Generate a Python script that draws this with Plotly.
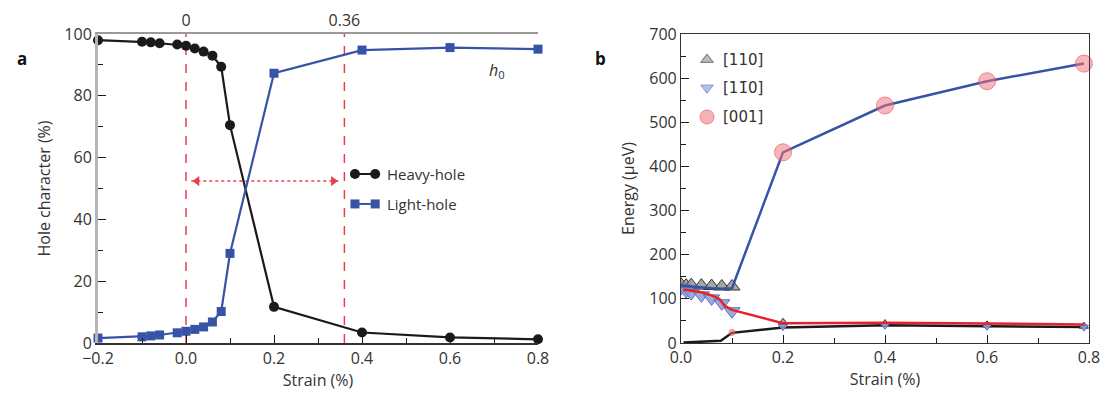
import plotly.graph_objects as go

# ---------------- Panel a data ----------------
strain_a = [-0.2, -0.1, -0.08, -0.06, -0.02, 0.0, 0.02, 0.04, 0.06, 0.08, 0.1, 0.2, 0.4, 0.6, 0.8]
heavy_hole = [98.0, 97.5, 97.3, 97.0, 96.6, 96.2, 95.3, 94.3, 93.0, 89.4, 70.5, 11.7, 3.4, 1.8, 1.2]
light_hole = [1.6, 2.0, 2.3, 2.6, 3.3, 3.8, 4.4, 5.2, 6.8, 10.2, 29.0, 87.3, 94.8, 95.6, 95.1]
a_xticks = [-0.2, 0.0, 0.2, 0.4, 0.6, 0.8]
a_yticks = [0, 20, 40, 60, 80, 100]
top_ticks = [0.0, 0.36]
top_labels = ["0", "0.36"]
arrow_x = [0.025, 0.335]
arrow_y = 52.4

# ---------------- Panel b data ----------------
blue_x = [0.0, 0.02, 0.04, 0.06, 0.08, 0.1, 0.2, 0.4, 0.6, 0.79]
blue_y = [130, 128, 125, 124, 123, 124, 432, 538, 593, 633]
red_x = [0.005, 0.02, 0.04, 0.06, 0.075, 0.085, 0.1, 0.2, 0.4, 0.6, 0.79]
red_y = [121, 119, 115, 108, 100, 85, 75, 45, 46, 44, 42]
black_x = [0.005, 0.078, 0.1, 0.2, 0.4, 0.6, 0.79]
black_y = [1, 5, 23, 35, 40, 38, 36]

up_x = [0.0, 0.01, 0.02, 0.04, 0.06, 0.08, 0.1]
up_y = [132, 130, 131, 130, 129, 128, 128]
up_x2 = [0.2, 0.4, 0.6, 0.79]
up_y2 = [47, 44, 41, 38]
down_x = [0.0, 0.01, 0.02, 0.04, 0.06, 0.08, 0.1]
down_y = [124, 118, 113, 108, 101, 90, 72]
down_x2 = [0.2, 0.4, 0.6, 0.79]
down_y2 = [37, 40, 38, 36]
circ_x = [0.1, 0.2, 0.4, 0.6, 0.79]
circ_y = [24, 432, 538, 593, 633]
circ_size = [6, 17, 17, 17, 17]
b_xticks = [0.0, 0.2, 0.4, 0.6, 0.8]
b_yticks = [0, 100, 200, 300, 400, 500, 600, 700]
b_legend_labels = ["[110]", "[11\u03040]", "[001]"]
b_legend_y = [642, 578, 512]

FONT = "Open Sans"
BLACK = "#1a1a1a"
BLUE = "#3653a5"
RED = "#e8404a"
TXT = "#333333"

fig = go.Figure()

# dashed vertical guide lines (panel a)
for xv in top_ticks:
    fig.add_shape(type="line", xref="x", yref="y", x0=xv, x1=xv, y0=0, y1=100,
                  line=dict(color=RED, width=1.5, dash="dash"), layer="below")

# dotted double arrow
fig.add_trace(go.Scatter(x=[0.012, 0.35], y=[arrow_y, arrow_y], mode="lines",
                         line=dict(color=RED, width=1.5, dash="dot"),
                         showlegend=False, hoverinfo="skip", xaxis="x", yaxis="y"))
fig.add_trace(go.Scatter(x=arrow_x, y=[arrow_y, arrow_y], mode="markers",
                         marker=dict(symbol=["triangle-left", "triangle-right"], size=9, color=RED),
                         showlegend=False, hoverinfo="skip", xaxis="x", yaxis="y"))

# panel a series
fig.add_trace(go.Scatter(x=strain_a, y=heavy_hole, mode="lines+markers", name="Heavy-hole",
                         line=dict(color=BLACK, width=2.2),
                         marker=dict(symbol="circle", size=10, color=BLACK),
                         cliponaxis=False, showlegend=False, xaxis="x", yaxis="y"))
fig.add_trace(go.Scatter(x=strain_a, y=light_hole, mode="lines+markers", name="Light-hole",
                         line=dict(color=BLUE, width=2.2),
                         marker=dict(symbol="square", size=9, color=BLUE),
                         cliponaxis=False, showlegend=False, xaxis="x", yaxis="y"))

# custom legend for panel a
leg_ax = [0.384, 0.43]
fig.add_trace(go.Scatter(x=leg_ax, y=[54.7, 54.7], mode="lines+markers",
                         line=dict(color=BLACK, width=2), marker=dict(size=10, color=BLACK),
                         showlegend=False, hoverinfo="skip", xaxis="x", yaxis="y"))
fig.add_trace(go.Scatter(x=leg_ax, y=[45.0, 45.0], mode="lines+markers",
                         line=dict(color=BLUE, width=2), marker=dict(size=9, symbol="square", color=BLUE),
                         showlegend=False, hoverinfo="skip", xaxis="x", yaxis="y"))
fig.add_annotation(x=0.452, y=54.7, xref="x", yref="y", text="Heavy-hole", showarrow=False,
                   xanchor="left", font=dict(family=FONT, size=15, color=TXT))
fig.add_annotation(x=0.452, y=45.0, xref="x", yref="y", text="Light-hole", showarrow=False,
                   xanchor="left", font=dict(family=FONT, size=15, color=TXT))
fig.add_annotation(x=0.707, y=88.3, xref="x", yref="y", text="<i>h</i><sub>0</sub>", showarrow=False,
                   font=dict(family=FONT, size=16, color=TXT))

# invisible trace for top axis
fig.add_trace(go.Scatter(x=top_ticks, y=[None, None], mode="markers", showlegend=False,
                         hoverinfo="skip", xaxis="x3", yaxis="y"))

# ---------------- panel b traces ----------------
fig.add_trace(go.Scatter(x=black_x, y=black_y, mode="lines", line=dict(color=BLACK, width=2.5),
                         showlegend=False, xaxis="x2", yaxis="y2"))
fig.add_trace(go.Scatter(x=up_x, y=up_y, mode="markers",
                         marker=dict(symbol="triangle-up", size=14, color="rgba(150,150,150,0.85)",
                                     line=dict(color="#333333", width=1)),
                         showlegend=False, xaxis="x2", yaxis="y2"))
fig.add_trace(go.Scatter(x=down_x, y=down_y, mode="markers",
                         marker=dict(symbol="triangle-down", size=14, color="rgba(140,155,215,0.85)",
                                     line=dict(color="#5a6fbf", width=1)),
                         showlegend=False, xaxis="x2", yaxis="y2"))
fig.add_trace(go.Scatter(x=up_x2, y=up_y2, mode="markers",
                         marker=dict(symbol="triangle-up", size=8, color="rgba(150,150,150,0.85)",
                                     line=dict(color="#333333", width=1)),
                         cliponaxis=False, showlegend=False, xaxis="x2", yaxis="y2"))
fig.add_trace(go.Scatter(x=down_x2, y=down_y2, mode="markers",
                         marker=dict(symbol="triangle-down", size=8, color="rgba(140,155,215,0.85)",
                                     line=dict(color="#5a6fbf", width=1)),
                         cliponaxis=False, showlegend=False, xaxis="x2", yaxis="y2"))
fig.add_trace(go.Scatter(x=red_x, y=red_y, mode="lines", line=dict(color="#e8202a", width=2.5),
                         showlegend=False, xaxis="x2", yaxis="y2"))
fig.add_trace(go.Scatter(x=blue_x, y=blue_y, mode="lines", line=dict(color=BLUE, width=2.5),
                         showlegend=False, xaxis="x2", yaxis="y2"))
fig.add_trace(go.Scatter(x=circ_x, y=circ_y, mode="markers",
                         marker=dict(symbol="circle", size=circ_size, color="rgba(240,120,125,0.75)",
                                     line=dict(color="#e8505a", width=1)),
                         cliponaxis=False, showlegend=False, xaxis="x2", yaxis="y2"))

# custom legend panel b
leg_bx = [0.051, 0.051, 0.051]
leg_sym = ["triangle-up", "triangle-down", "circle"]
leg_col = ["rgba(150,150,150,0.9)", "rgba(140,155,215,0.9)", "rgba(240,120,125,0.8)"]
leg_line = ["#333333", "#5a6fbf", "#e8505a"]
leg_size = [11, 11, 14]
fig.add_trace(go.Scatter(x=leg_bx, y=b_legend_y, mode="markers",
                         marker=dict(symbol=leg_sym, size=leg_size, color=leg_col,
                                     line=dict(color=leg_line, width=1)),
                         showlegend=False, hoverinfo="skip", xaxis="x2", yaxis="y2"))
for lab, yy in zip(b_legend_labels, b_legend_y):
    fig.add_annotation(x=0.078, y=yy, xref="x2", yref="y2", text=lab, showarrow=False,
                       xanchor="left", font=dict(family="DejaVu Sans", size=15, color=TXT))

# panel labels
fig.add_annotation(x=15 / 1104, y=1 - 45 / 394, xref="paper", yref="paper", text="<b>a</b>",
                   showarrow=False, font=dict(family=FONT, size=17, color="#111"))
fig.add_annotation(x=600 / 1104, y=1 - 45 / 394, xref="paper", yref="paper", text="<b>b</b>",
                   showarrow=False, font=dict(family=FONT, size=17, color="#111"))

tickfont = dict(family=FONT, size=16, color=TXT)
titlefont = dict(family=FONT, size=16, color=TXT)
ydom = [51 / 394, 360 / 394]

fig.update_layout(
    width=1104, height=394,
    margin=dict(l=0, r=0, t=0, b=0),
    paper_bgcolor="white", plot_bgcolor="white",
    showlegend=False,
    xaxis=dict(domain=[98 / 1104, 538 / 1104], range=[-0.2, 0.8], anchor="y",
               tickvals=a_xticks, tickformat=".1f", ticks="inside", ticklen=8, tickcolor=BLACK,
               minor=dict(ticks="inside", ticklen=5, dtick=0.1, tickcolor=BLACK),
               showline=True, linecolor="#333", linewidth=1.5, mirror=False,
               showgrid=False, zeroline=False, tickfont=tickfont,
               title=dict(text="Strain (%)", font=titlefont, standoff=6), automargin=False),
    xaxis3=dict(overlaying="x", side="top", range=[-0.2, 0.8], anchor="y",
                tickvals=top_ticks, ticktext=top_labels, ticks="", showline=True,
                linecolor="#9a9a9a", linewidth=1.5, showgrid=False, zeroline=False,
                tickfont=tickfont, automargin=False),
    yaxis=dict(domain=ydom, range=[0, 100], anchor="x",
               tickvals=a_yticks, ticks="inside", ticklen=8, tickcolor=BLACK,
               minor=dict(ticks="inside", ticklen=5, dtick=10, tickcolor=BLACK),
               showline=True, linecolor="#b5b5b5", linewidth=3,
               showgrid=False, zeroline=False, tickfont=tickfont,
               title=dict(text="Hole character (%)", font=titlefont, standoff=10), automargin=False),
    xaxis2=dict(domain=[681 / 1104, 1089 / 1104], range=[0, 0.8], anchor="y2",
                tickvals=b_xticks, tickformat=".1f", ticks="inside", ticklen=8, tickcolor=BLACK,
                minor=dict(ticks="inside", ticklen=5, dtick=0.1, tickcolor=BLACK),
                showline=True, linecolor="#333", linewidth=1.2, mirror=True,
                showgrid=False, zeroline=False, tickfont=tickfont,
                title=dict(text="Strain (%)", font=titlefont, standoff=6), automargin=False),
    yaxis2=dict(domain=ydom, range=[0, 700], anchor="x2",
                tickvals=b_yticks, ticks="inside", ticklen=8, tickcolor=BLACK,
                minor=dict(ticks="inside", ticklen=5, dtick=50, tickcolor=BLACK),
                showline=True, linecolor="#333", linewidth=1.2, mirror=True,
                showgrid=False, zeroline=False, tickfont=tickfont,
                title=dict(text="Energy (\u03bceV)", font=titlefont, standoff=10), automargin=False),
)

fig.write_html("out.html")
